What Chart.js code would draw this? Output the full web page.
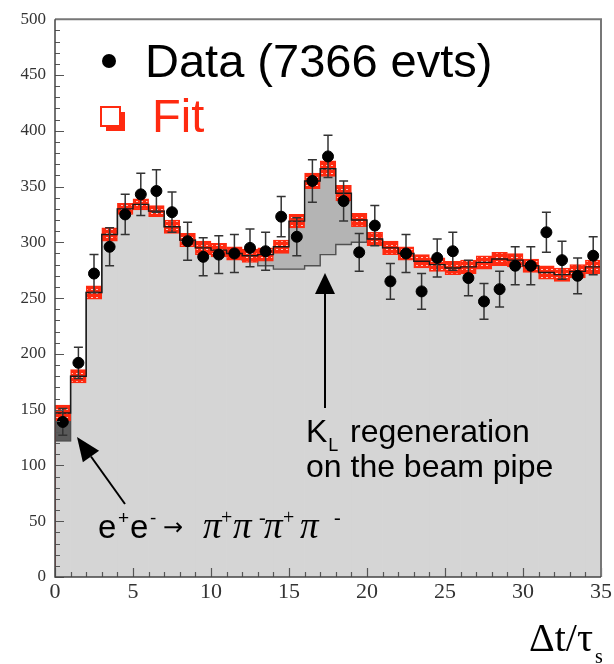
<!DOCTYPE html>
<html>
<head>
<meta charset="utf-8">
<script src="https://cdn.jsdelivr.net/npm/chart.js@4.4.0/dist/chart.umd.min.js"></script>
<style>
  html, body { margin: 0; padding: 0; background: #fff; }
  #chart { display: block; }
</style>
</head>
<body>
<canvas id="chart" width="614" height="664"></canvas>
<script>
// lower edge of each Δt/τs bin (bin width 1)
const binLow = [0, 1, 2, 3, 4, 5, 6, 7, 8, 9, 10, 11, 12, 13, 14, 15, 16, 17,
  18, 19, 20, 21, 22, 23, 24, 25, 26, 27, 28, 29, 30, 31, 32, 33, 34];

// data points and their errors
const dataCounts = [139, 192, 272, 296, 325, 343, 346, 327, 301, 287, 289, 290, 295, 292, 323, 305, 355, 377,
  337, 291, 315, 265, 290, 256, 286, 292, 268, 247, 258, 279, 279, 309, 284, 270, 288];
const dataErrors = [12, 14, 17, 17, 18, 19, 19, 18, 17, 17, 17, 17, 17, 17, 18, 17, 19, 19,
  18, 17, 18, 16, 17, 16, 17, 17, 16, 16, 16, 17, 17, 18, 17, 16, 17];

// fit: total, its error band, and the background part (without e+e- and K_L regeneration)
const fitTotal = [147, 180, 255, 307, 330, 334, 328, 314, 302, 295, 293, 290, 288, 289, 296, 319, 355, 366,
  344, 320, 303, 295, 290, 283, 280, 277, 278, 282, 285, 284, 279, 273, 271, 274, 278];
const fitError = [7, 6, 6, 6, 5, 5, 5, 6, 6, 6, 6, 6, 6, 6, 6, 6, 7, 7,
  7, 6, 6, 6, 6, 6, 6, 6, 6, 6, 6, 6, 6, 6, 6, 6, 6];
const fitBackground = [122, 180, 255, 307, 330, 334, 328, 314, 302, 295, 293, 290, 284, 279, 276, 276, 279, 289,
  298, 300, 302, 295, 290, 283, 280, 277, 278, 282, 285, 284, 279, 273, 271, 274, 278];

const xTicks = [0, 5, 10, 15, 20, 25, 30, 35];
const yTicks = [0, 50, 100, 150, 200, 250, 300, 350, 400, 450, 500];

const LIGHT = '#d5d5d5';
const MID = '#b4b4b4';
const DARK = '#5a5a5a';
const RED = '#ff2a10';

// histogram outline points (left edges + closing right edge)
function stepPoints(values) {
  const pts = binLow.map((x, i) => ({ x: x, y: values[i] }));
  pts.push({ x: binLow[binLow.length - 1] + 1, y: values[values.length - 1] });
  return pts;
}

// red box with little white marks, like the fit error band
function bandPattern() {
  const c = document.createElement('canvas');
  c.width = 5; c.height = 4;
  const g = c.getContext('2d');
  g.fillStyle = RED;
  g.fillRect(0, 0, 5, 4);
  g.fillStyle = 'rgba(255,255,255,0.75)';
  g.fillRect(1, 1, 2, 1);
  return g.createPattern(c, 'repeat');
}

const totalLine = [{ x: 0, y: 0 }, ...stepPoints(fitTotal), { x: 35, y: 0 }];
const lastSeg = totalLine.length - 1;

// error bars under the data dots
const errorBars = {
  id: 'errorBars',
  beforeDatasetDraw(chart, args) {
    if (chart.data.datasets[args.index].label !== 'Data') return;
    const { ctx, scales: { x, y } } = chart;
    ctx.save();
    ctx.strokeStyle = '#333';
    ctx.lineWidth = 1.5;
    binLow.forEach((lo, i) => {
      const px = x.getPixelForValue(lo + 0.5);
      const top = y.getPixelForValue(dataCounts[i] + dataErrors[i]);
      const bot = y.getPixelForValue(dataCounts[i] - dataErrors[i]);
      ctx.beginPath();
      ctx.moveTo(px, top); ctx.lineTo(px, bot);
      ctx.moveTo(px - 4.5, top); ctx.lineTo(px + 4.5, top);
      ctx.moveTo(px - 4.5, bot); ctx.lineTo(px + 4.5, bot);
      ctx.stroke();
    });
    ctx.restore();
  }
};

function arrow(ctx, x0, y0, x1, y1, len, half) {
  const a = Math.atan2(y1 - y0, x1 - x0);
  const bx = x1 - len * Math.cos(a), by = y1 - len * Math.sin(a);
  ctx.beginPath();
  ctx.moveTo(x0, y0);
  ctx.lineTo(bx, by);
  ctx.stroke();
  ctx.beginPath();
  ctx.moveTo(x1, y1);
  ctx.lineTo(bx + half * Math.sin(a), by - half * Math.cos(a));
  ctx.lineTo(bx - half * Math.sin(a), by + half * Math.cos(a));
  ctx.closePath();
  ctx.fill();
}

// frame, inner ticks, legend, labels
const decorations = {
  id: 'decorations',
  afterDraw(chart) {
    const { ctx, chartArea: a, scales: { x, y } } = chart;
    ctx.save();

    // inner tick marks
    ctx.strokeStyle = '#555';
    ctx.lineWidth = 1.2;
    ctx.beginPath();
    for (let v = 0; v <= 500; v += 10) {
      const py = Math.round(y.getPixelForValue(v)) + 0.5;
      ctx.moveTo(a.left, py);
      ctx.lineTo(a.left + (v % 50 === 0 ? 9 : 5), py);
    }
    for (let v = 0; v <= 35; v += 1) {
      const px = Math.round(x.getPixelForValue(v)) + 0.5;
      ctx.moveTo(px, a.bottom);
      ctx.lineTo(px, a.bottom - (v % 5 === 0 ? 9 : 5));
    }
    ctx.stroke();

    // frame
    ctx.strokeStyle = '#777';
    ctx.lineWidth = 2;
    ctx.beginPath();
    ctx.moveTo(a.left, a.top);
    ctx.lineTo(a.right, a.top);
    ctx.lineTo(a.right, a.bottom);
    ctx.stroke();
    ctx.strokeStyle = '#444';
    ctx.lineWidth = 1.5;
    ctx.beginPath();
    ctx.moveTo(a.left, a.top);
    ctx.lineTo(a.left, a.bottom);
    ctx.lineTo(a.right, a.bottom);
    ctx.stroke();

    // legend
    ctx.fillStyle = '#000';
    ctx.beginPath();
    ctx.arc(109, 61, 7, 0, Math.PI * 2);
    ctx.fill();
    ctx.font = '47px "Liberation Sans"';
    ctx.textBaseline = 'alphabetic';
    ctx.fillText('Data (7366 evts)', 145, 77);
    ctx.strokeStyle = RED;
    ctx.lineWidth = 2;
    ctx.strokeRect(101, 107, 19, 19);
    ctx.fillStyle = RED;
    ctx.fillRect(120, 112, 5, 19);
    ctx.fillRect(106, 126, 19, 5);
    ctx.fillText('Fit', 152, 132);

    // K_L annotation
    ctx.fillStyle = '#000';
    ctx.font = '32px "Liberation Sans"';
    ctx.fillText('K', 306, 442);
    const kw = ctx.measureText('K').width;
    ctx.font = '18px "Liberation Sans"';
    ctx.fillText('L', 306 + kw + 1, 451);
    ctx.font = '32px "Liberation Sans"';
    ctx.fillText('regeneration', 350, 442);
    ctx.fillText('on the beam pipe', 306, 477);

    // e+e- -> pi+pi-pi+pi- annotation
    const sans = '33px "Liberation Sans"';
    const sup = '19px "Liberation Sans"';
    const pi = 'italic 37px "Liberation Serif"';
    const supS = '20px "Liberation Serif"';
    [
      ['e', sans, 98, 538], ['+', sup, 118, 524], ['e', sans, 130, 538], ['-', sup, 150, 524],
      ['\u2192', '24px "DejaVu Sans"', 163, 535],
      ['\u03c0', pi, 203, 538], ['+', supS, 221, 524], ['\u03c0', pi, 233, 538], ['-', supS, 259, 524],
      ['\u03c0', pi, 264, 538], ['+', supS, 283, 524], ['\u03c0', pi, 300, 538], ['-', supS, 334, 524]
    ].forEach(([t, f, px, py]) => {
      ctx.font = f;
      ctx.fillText(t, px, py);
    });

    // arrows
    ctx.strokeStyle = '#000';
    ctx.fillStyle = '#000';
    ctx.lineWidth = 2;
    arrow(ctx, 325, 408, 325, 273, 21, 10);
    arrow(ctx, 125, 504, 77, 437, 24, 10);

    // x axis title
    ctx.font = '40px "Liberation Serif"';
    ctx.fillText('\u0394t/\u03c4', 529, 651);
    const tw = ctx.measureText('\u0394t/\u03c4').width;
    ctx.font = '20px "Liberation Serif"';
    ctx.fillText('s', 529 + tw + 2, 663);

    ctx.restore();
  }
};

const tickFontY = { family: 'Liberation Serif', size: 17 };
const tickFontX = { family: 'Liberation Serif', size: 22 };

new Chart(document.getElementById('chart'), {
  type: 'bar',
  data: {
    datasets: [
      {
        label: 'Data',
        type: 'scatter',
        data: binLow.map((lo, i) => ({ x: lo + 0.5, y: dataCounts[i] })),
        backgroundColor: '#000',
        borderColor: '#000',
        pointRadius: 5.5,
        pointHoverRadius: 5.5,
        order: 1
      },
      {
        label: 'Fit',
        type: 'line',
        data: totalLine,
        stepped: 'before',
        borderColor: '#1a1a1a',
        borderWidth: 1.4,
        pointRadius: 0,
        fill: false,
        segment: {
          borderColor: c => (c.p0DataIndex === 0 || c.p1DataIndex === lastSeg) ? '#9a1c1c' : '#1a1a1a'
        },
        order: 2
      },
      {
        label: 'Fit band',
        data: binLow.map((lo, i) => ({ x: lo + 0.5, y: [fitTotal[i] - fitError[i], fitTotal[i] + fitError[i]] })),
        backgroundColor: bandPattern(),
        borderColor: RED,
        borderWidth: 1.5,
        borderSkipped: false,
        grouped: false,
        barPercentage: 1,
        categoryPercentage: 1,
        order: 3
      },
      {
        label: 'Background line',
        type: 'line',
        data: stepPoints(fitBackground),
        stepped: 'before',
        borderColor: '#505050',
        borderWidth: 1.4,
        pointRadius: 0,
        fill: false,
        order: 4
      },
      {
        label: 'Signal parts',
        data: binLow.map((lo, i) => ({ x: lo + 0.5, y: [fitBackground[i], fitTotal[i]] })),
        backgroundColor: binLow.map(lo => lo === 0 ? DARK : MID),
        borderWidth: 0,
        grouped: false,
        barPercentage: 1,
        categoryPercentage: 1,
        order: 5
      },
      {
        label: 'Background',
        data: binLow.map((lo, i) => ({ x: lo + 0.5, y: [0, fitBackground[i]] })),
        backgroundColor: LIGHT,
        borderWidth: 0,
        grouped: false,
        barPercentage: 1,
        categoryPercentage: 1,
        order: 6
      }
    ]
  },
  options: {
    responsive: false,
    animation: false,
    devicePixelRatio: 1,
    layout: { padding: { top: 17, right: 13, left: 0, bottom: 0 } },
    plugins: { legend: { display: false }, tooltip: { enabled: false } },
    scales: {
      x: {
        type: 'linear',
        offset: false,
        min: 0,
        max: 35,
        afterBuildTicks: s => { s.ticks = xTicks.map(v => ({ value: v })); },
        afterFit: s => { s.height = 87; },
        ticks: { font: tickFontX, color: '#333', padding: 2, maxRotation: 0 },
        grid: { display: false, drawTicks: false },
        border: { display: false }
      },
      y: {
        type: 'linear',
        min: 0,
        max: 500,
        afterBuildTicks: s => { s.ticks = yTicks.map(v => ({ value: v })); },
        afterFit: s => { s.width = 55; },
        ticks: { font: tickFontY, color: '#333', padding: 9 },
        grid: { display: false, drawTicks: false },
        border: { display: false }
      }
    }
  },
  plugins: [errorBars, decorations]
});
</script>
</body>
</html>
